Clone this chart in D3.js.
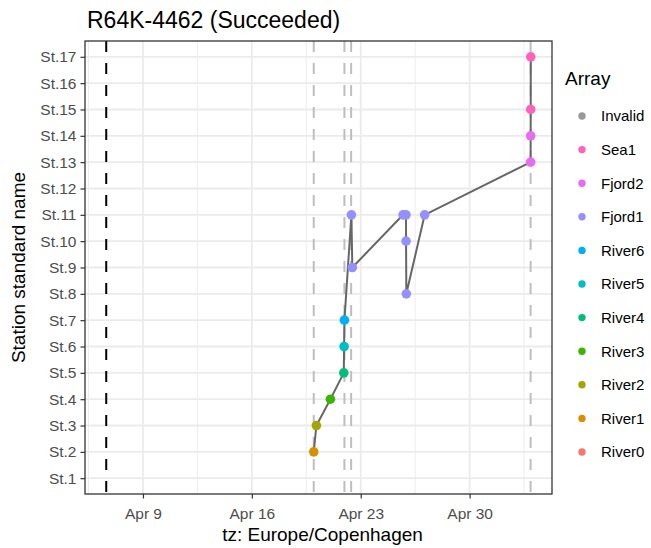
<!DOCTYPE html>
<html>
<head>
<meta charset="utf-8">
<script src="https://cdn.jsdelivr.net/npm/d3@7"></script>
<style>
  body { margin: 0; background: #fff; }
  svg { font-family: "Liberation Sans", Arial, sans-serif; }
</style>
</head>
<body>
<div id="chart"></div>
<script>
// =============================
// DATA
// =============================
const stations = ["St.1", "St.2", "St.3", "St.4", "St.5", "St.6", "St.7", "St.8", "St.9",
  "St.10", "St.11", "St.12", "St.13", "St.14", "St.15", "St.16", "St.17"];

const arrays = ["Invalid", "Sea1", "Fjord2", "Fjord1", "River6", "River5", "River4",
  "River3", "River2", "River1", "River0"];
const arrayColors = ["#999999", "#FF62BC", "#E76BF3", "#9590FF", "#00B0F6", "#00BFC4",
  "#00BF7D", "#39B600", "#A3A500", "#D89000", "#F8766D"];

// detections, in time order
const detTimes = ["2024-04-19 23:30", "2024-04-20 03:36", "2024-04-21 01:12", "2024-04-21 21:50",
  "2024-04-21 22:20", "2024-04-21 22:50", "2024-04-22 09:36", "2024-04-22 11:00",
  "2024-04-25 17:17", "2024-04-25 21:50", "2024-04-25 21:55", "2024-04-25 22:20",
  "2024-04-27 02:38", "2024-05-03 22:05", "2024-05-03 22:10", "2024-05-03 22:15",
  "2024-05-03 22:20"];
const detStations = ["St.2", "St.3", "St.4", "St.5", "St.6", "St.7", "St.11", "St.9",
  "St.11", "St.11", "St.10", "St.8", "St.11", "St.13", "St.14", "St.15", "St.17"];
const detArrays = ["River1", "River2", "River3", "River4", "River5", "River6", "Fjord1", "Fjord1",
  "Fjord1", "Fjord1", "Fjord1", "Fjord1", "Fjord1", "Fjord2", "Fjord2", "Sea1", "Sea1"];

const releaseTime = "2024-04-06 15:20";
const arrayLines = ["2024-04-19 23:30", "2024-04-21 22:50", "2024-04-22 09:10", "2024-05-03 22:05"];

const xTicks = ["2024-04-09 00:00", "2024-04-16 00:00", "2024-04-23 00:00", "2024-04-30 00:00"];

// =============================
// SETUP
// =============================
const width = 651, height = 548;
const panel = { left: 85, right: 552, top: 41, bottom: 494 };

const parse = d3.timeParse("%Y-%m-%d %H:%M");
const detections = detTimes.map((t, i) => ({
  time: parse(t), station: detStations[i], array: detArrays[i]
}));

const svg = d3.select("#chart").append("svg")
  .attr("width", width)
  .attr("height", height);

// x domain = release .. last detection, expanded 5% like ggplot
const tMin = parse(releaseTime);
const tMax = d3.max(detections, d => d.time);
const pad = (tMax - tMin) * 0.05;
const x = d3.scaleTime()
  .domain([new Date(+tMin - pad), new Date(+tMax + pad)])
  .range([panel.left, panel.right]);

const y = d3.scalePoint()
  .domain(stations)
  .range([panel.bottom, panel.top])
  .padding(0.6);

const color = d3.scaleOrdinal().domain(arrays).range(arrayColors);

const majors = xTicks.map(parse);
const dayMs = 24 * 3600 * 1000;
const minors = [];
const half = 3.5 * dayMs;
for (let t = +majors[0] - half; t <= +x.domain()[1]; t += 7 * dayMs) {
  if (t >= +x.domain()[0]) minors.push(new Date(t));
}

// =============================
// GRID
// =============================
const grid = svg.append("g");
grid.selectAll(".minor").data(minors).enter().append("line")
  .attr("x1", d => x(d)).attr("x2", d => x(d))
  .attr("y1", panel.top).attr("y2", panel.bottom)
  .attr("stroke", "#EBEBEB").attr("stroke-width", 0.9);
grid.selectAll(".majx").data(majors).enter().append("line")
  .attr("x1", d => x(d)).attr("x2", d => x(d))
  .attr("y1", panel.top).attr("y2", panel.bottom)
  .attr("stroke", "#EBEBEB").attr("stroke-width", 1.8);
grid.selectAll(".majy").data(stations).enter().append("line")
  .attr("x1", panel.left).attr("x2", panel.right)
  .attr("y1", d => y(d)).attr("y2", d => y(d))
  .attr("stroke", "#EBEBEB").attr("stroke-width", 1.8);

// =============================
// VERTICAL REFERENCE LINES
// =============================
svg.selectAll(".arrline").data(arrayLines.map(parse)).enter().append("line")
  .attr("x1", d => x(d)).attr("x2", d => x(d))
  .attr("y1", panel.top).attr("y2", panel.bottom)
  .attr("stroke", "#BEBEBE").attr("stroke-width", 2)
  .attr("stroke-dasharray", "11,11");

svg.append("line")
  .attr("x1", x(tMin)).attr("x2", x(tMin))
  .attr("y1", panel.top).attr("y2", panel.bottom)
  .attr("stroke", "#000").attr("stroke-width", 2)
  .attr("stroke-dasharray", "11,11");

// =============================
// PATH + POINTS
// =============================
const line = d3.line().x(d => x(d.time)).y(d => y(d.station));
svg.append("path")
  .datum(detections)
  .attr("d", line)
  .attr("fill", "none")
  .attr("stroke", "#666666")
  .attr("stroke-width", 2);

svg.selectAll(".pt").data(detections).enter().append("circle")
  .attr("cx", d => x(d.time))
  .attr("cy", d => y(d.station))
  .attr("r", 4.8)
  .attr("fill", d => color(d.array));

// =============================
// PANEL BORDER + AXES
// =============================
svg.append("rect")
  .attr("x", panel.left).attr("y", panel.top)
  .attr("width", panel.right - panel.left)
  .attr("height", panel.bottom - panel.top)
  .attr("fill", "none").attr("stroke", "#333333").attr("stroke-width", 1.3);

const xAxis = svg.append("g")
  .attr("transform", `translate(0,${panel.bottom})`)
  .call(d3.axisBottom(x).tickValues(majors).tickFormat(d3.timeFormat("%b %-d"))
    .tickSize(4.5).tickPadding(9));
const yAxis = svg.append("g")
  .attr("transform", `translate(${panel.left},0)`)
  .call(d3.axisLeft(y).tickSize(4.5).tickPadding(4));

[xAxis, yAxis].forEach(a => {
  a.select(".domain").remove();
  a.selectAll("line").attr("stroke", "#333333").attr("stroke-width", 1.2);
  a.selectAll("text").attr("fill", "#4D4D4D")
    .attr("font-size", "15.5px")
    .attr("font-family", "Liberation Sans, Arial, sans-serif");
});

// =============================
// TITLES
// =============================
svg.append("text")
  .attr("x", 87).attr("y", 28)
  .attr("font-size", "23px")
  .text("R64K-4462 (Succeeded)");

svg.append("text")
  .attr("x", (panel.left + panel.right) / 2 + 4).attr("y", 541)
  .attr("text-anchor", "middle")
  .attr("font-size", "19px")
  .text("tz: Europe/Copenhagen");

svg.append("text")
  .attr("transform", `translate(25,${(panel.top + panel.bottom) / 2}) rotate(-90)`)
  .attr("text-anchor", "middle")
  .attr("font-size", "19px")
  .text("Station standard name");

// =============================
// LEGEND
// =============================
const legend = svg.append("g");
legend.append("text")
  .attr("x", 565).attr("y", 85)
  .attr("font-size", "19px")
  .text("Array");

const items = legend.selectAll(".item").data(arrays).enter().append("g")
  .attr("transform", (d, i) => `translate(582,${116 + i * 33.6})`);
items.append("circle").attr("r", 3.7).attr("fill", d => color(d));
items.append("text")
  .attr("x", 19).attr("y", 5.3)
  .attr("font-size", "15px")
  .text(d => d);
</script>
</body>
</html>
